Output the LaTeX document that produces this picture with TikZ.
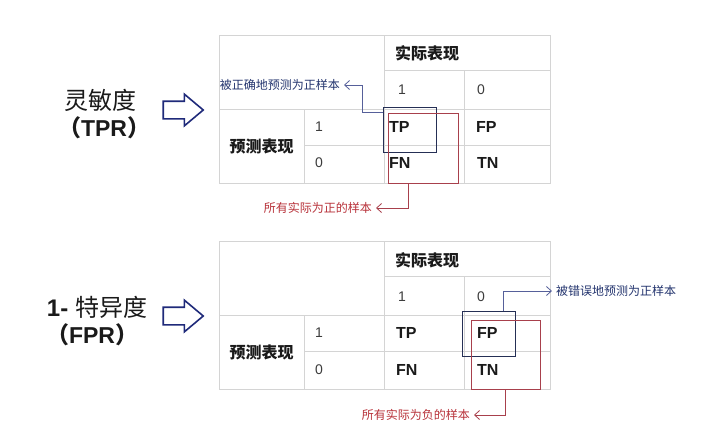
\documentclass[tikz,border=0pt]{standalone}
\usepackage{fontspec}
\setmainfont{Liberation Sans}
\newfontfamily\cjk{Noto Sans CJK SC}
\usepackage{tikz}
\usetikzlibrary{positioning,arrows.meta,shapes.arrows}
\definecolor{gridc}{HTML}{D4D4D4}
\definecolor{navy}{HTML}{1F2A7A}
\definecolor{boxblue}{HTML}{252F55}
\definecolor{lnblue}{HTML}{56609A}
\definecolor{txtblue}{HTML}{23346E}
\definecolor{boxred}{HTML}{A8404C}
\definecolor{txtred}{HTML}{B8323A}
\definecolor{ink}{HTML}{1A1A1A}
\tikzset{
  gridln/.style={draw=gridc,line width=0.9pt},
  num/.style={anchor=west,inner sep=0pt,font=\fontsize{14}{14}\selectfont,text=ink!85},
  cellb/.style={anchor=west,inner sep=0pt,font=\fontsize{16}{16}\selectfont\bfseries,text=ink},
  hdr/.style={inner sep=0pt,font=\fontsize{16}{16}\selectfont\cjk\bfseries,text=ink},
  ttl/.style={inner sep=0pt,font=\fontsize{24}{28}\selectfont,text=ink},
  bigarr/.style={single arrow,draw=navy,line width=1.6pt,fill=white,
    minimum height=40pt,single arrow head extend=7pt,
    single arrow tip angle=80,inner xsep=0pt,inner ysep=8pt},
  selbox/.style={draw=boxblue,line width=1pt,minimum width=53pt,minimum height=45pt,inner sep=0pt},
  allbox/.style={draw=boxred,line width=1pt,minimum width=70pt,minimum height=70pt,inner sep=0pt},
  bluear/.style={draw=lnblue,line width=0.8pt,-{Straight Barb[length=5pt,width=9pt]}},
  redar/.style={draw=boxred,line width=0.8pt,-{Straight Barb[length=5pt,width=9pt]}},
  bluelbl/.style={inner sep=0pt,font=\fontsize{12}{12}\selectfont\cjk,text=txtblue},
  redlbl/.style={inner sep=0pt,font=\fontsize{12}{12}\selectfont\cjk,text=txtred},
}

\begin{document}
\begin{tikzpicture}[x=1pt,y=-1pt]
  \useasboundingbox[fill=white] (0,0) rectangle (720,445);

  % sensitivity table
  \draw[gridln] (219,35) rectangle (550,183);
  \draw[gridln] (384,70) -- (550,70);
  \draw[gridln] (219,109) -- (550,109);
  \draw[gridln] (304,145) -- (550,145);
  \draw[gridln] (304,109) -- (304,183);
  \draw[gridln] (384,35) -- (384,183);
  \draw[gridln] (464,70) -- (464,183);

  \node[ttl] (sens) at (100,100) {\cjk 灵敏度};
  \node[ttl,font=\fontsize{23}{28}\selectfont\bfseries] (tpr) at (104,128) {{\cjk （}TPR{\cjk ）}};
  \node[bigarr] (arrA) at (178,110) {};

  \node[hdr,anchor=west] (actA) at (395,53) {实际表现};
  \node[num] (aoneA) at (398,90) {1};
  \node[num] (azeroA) at (477,90) {0};
  \node[hdr] (predA) at (261.5,146) {预测表现};
  \node[num] (ponePA) at (315,127) {1};
  \node[num] (pzeroA) at (315,163) {0};
  \node[cellb] (tpA) at (389,127) {TP};
  \node[cellb] (fpA) at (476,127) {FP};
  \node[cellb] (fnA) at (389,163) {FN};
  \node[cellb] (tnA) at (477,163) {TN};

  \node[selbox] (selA) at (409.5,129.5) {};
  \node[allbox] (allA) at (423,148) {};
  \node[bluelbl,anchor=east] (lblA) at (340,85) {被正确地预测为正样本};
  \node[redlbl,anchor=east] (lblB) at (372,208) {所有实际为正的样本};
  \draw[bluear] ([yshift=-6pt]selA.north west) -- ++(-20,0) |- ([xshift=4pt]lblA.east);
  \draw[redar] ([xshift=-15pt]allA.south) |- ([xshift=4pt]lblB.east);

  % specificity table
  \draw[gridln] (219,241) rectangle (550,389);
  \draw[gridln] (384,276) -- (550,276);
  \draw[gridln] (219,315) -- (550,315);
  \draw[gridln] (304,351) -- (550,351);
  \draw[gridln] (304,315) -- (304,389);
  \draw[gridln] (384,241) -- (384,389);
  \draw[gridln] (464,276) -- (464,389);

  \node[ttl] (spec) at (97,307) {\textbf{1-} {\cjk 特异度}};
  \node[ttl,font=\fontsize{23}{28}\selectfont\bfseries] (fpr) at (92,335) {{\cjk （}FPR{\cjk ）}};
  \node[bigarr] (arrB) at (178,316) {};

  \node[hdr,anchor=west] (actB) at (395,260) {实际表现};
  \node[num] (aoneB) at (398,297) {1};
  \node[num] (azeroB) at (477,297) {0};
  \node[hdr] (predB) at (261.5,352) {预测表现};
  \node[num] (poneB) at (315,333) {1};
  \node[num] (pzeroB) at (315,370) {0};
  \node[cellb] (tpB) at (396,333) {TP};
  \node[cellb] (fpB) at (477,333) {FP};
  \node[cellb] (fnB) at (396,370) {FN};
  \node[cellb] (tnB) at (477,370) {TN};

  \node[selbox] (selB) at (489,334) {};
  \node[allbox,minimum width=69pt,minimum height=69pt] (allB) at (505.5,354.5) {};
  \node[bluelbl,anchor=west] (lblC) at (556,291) {被错误地预测为正样本};
  \node[redlbl,anchor=east] (lblD) at (470,415) {所有实际为负的样本};
  \draw[bluear] ([xshift=14pt]selB.north) |- ([xshift=-4pt]lblC.west);
  \draw[redar] (allB.south) |- ([xshift=4pt]lblD.east);
\end{tikzpicture}
\end{document}
